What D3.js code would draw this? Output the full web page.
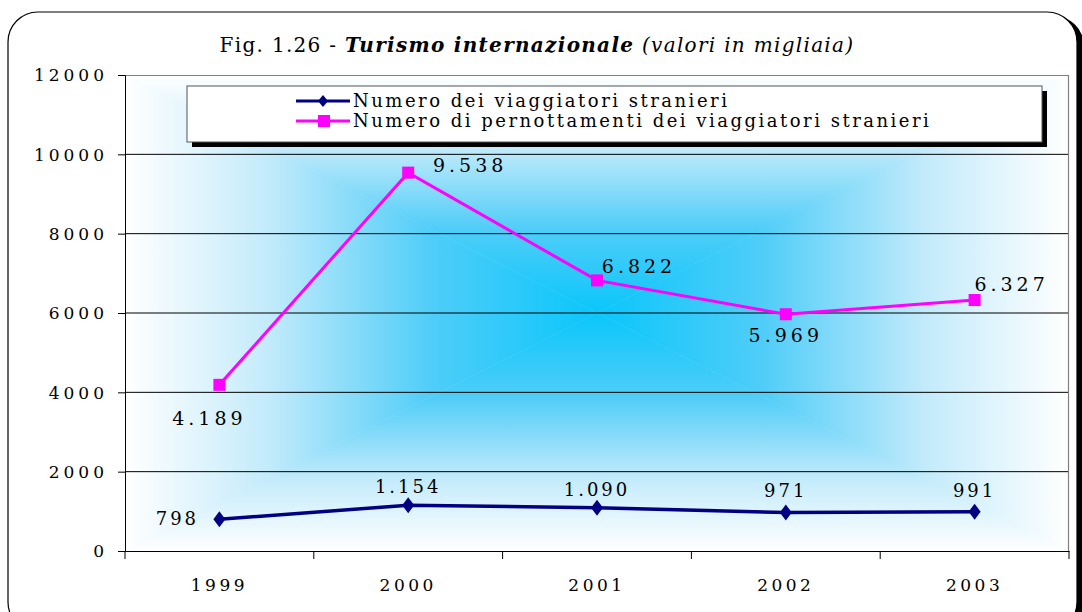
<!DOCTYPE html>
<html>
<head>
<meta charset="utf-8">
<script src="https://cdn.jsdelivr.net/npm/d3@7"></script>
<style>
  body { margin: 0; background: #fff; }
  text { font-family: "DejaVu Serif", "Liberation Serif", serif; fill: #000; }
</style>
</head>
<body>
<svg width="1082" height="612"></svg>
<script>
// chart values
var years = ['1999', '2000', '2001', '2002', '2003'];
var viaggiatori = [798, 1154, 1090, 971, 991];
var pernottamenti = [4189, 9538, 6822, 5969, 6327];
var viaggiatoriLabels = ['798', '1.154', '1.090', '971', '991'];
var pernottamentiLabels = ['4.189', '9.538', '6.822', '5.969', '6.327'];
var yTicks = [0, 2000, 4000, 6000, 8000, 10000, 12000];
var seriesNames = ['Numero dei viaggiatori stranieri', 'Numero di pernottamenti dei viaggiatori stranieri'];

var svg = d3.select('svg');
var padding = {t: 75, r: 13, b: 61, l: 125};
var W = 1082 - padding.l - padding.r;
var H = 612 - padding.t - padding.b;

var defs = svg.append('defs');

// outer rounded frame with shadow
svg.append('rect')
    .attr('x', 12).attr('y', 16).attr('width', 1072).attr('height', 620)
    .attr('rx', 30).attr('fill', '#000');
svg.append('rect')
    .attr('x', 8).attr('y', 12).attr('width', 1069).attr('height', 620)
    .attr('rx', 30).attr('fill', '#fff').attr('stroke', '#000').attr('stroke-width', 1.2);

// title
var title = svg.append('text')
    .attr('x', 537).attr('y', 52)
    .attr('text-anchor', 'middle')
    .style('font-size', '20px').style('letter-spacing', '1.3px');
title.append('tspan').text('Fig. 1.26 - ');
title.append('tspan').text('Turismo internazionale').style('font-weight', 'bold').style('font-style', 'italic');
title.append('tspan').text('  (valori in migliaia)').style('font-style', 'italic');

var xScale = d3.scaleBand().domain(years).range([0, W]);
var yScale = d3.scaleLinear().domain([0, 12000]).range([H, 0]);

// background: rectangular "from centre" gradient made of four triangles
var bgG = svg.append('g').attr('transform', 'translate(' + [padding.l, padding.t] + ')');
var cx = W / 2, cy = H / 2;
var tris = [
    {id: 'gT', pts: [[0, 0], [W, 0], [cx, cy]], x2: cx, y2: 0},
    {id: 'gB', pts: [[0, H], [W, H], [cx, cy]], x2: cx, y2: H},
    {id: 'gL', pts: [[0, 0], [0, H], [cx, cy]], x2: 0, y2: cy},
    {id: 'gR', pts: [[W, 0], [W, H], [cx, cy]], x2: W, y2: cy}
];
tris.forEach(function(t) {
    var g = defs.append('linearGradient')
        .attr('id', t.id)
        .attr('gradientUnits', 'userSpaceOnUse')
        .attr('x1', cx).attr('y1', cy)
        .attr('x2', t.x2).attr('y2', t.y2);
    g.append('stop').attr('offset', '0%').attr('stop-color', '#0ac6fb');
    g.append('stop').attr('offset', '35%').attr('stop-color', '#4fcdf8');
    g.append('stop').attr('offset', '70%').attr('stop-color', '#c4ebfb');
    g.append('stop').attr('offset', '100%').attr('stop-color', '#ffffff');
    bgG.append('polygon')
        .attr('points', t.pts.map(function(p) { return p.join(','); }).join(' '))
        .attr('fill', 'url(#' + t.id + ')')
        .attr('stroke', 'url(#' + t.id + ')')
        .attr('stroke-width', 0.5);
});

var chartG = svg.append('g')
    .attr('transform', 'translate(' + [padding.l, padding.t] + ')');

// gridlines
chartG.selectAll('.grid')
    .data(yTicks.filter(function(d) { return d > 0 && d < 12000; }))
    .enter().append('line')
    .attr('class', 'grid')
    .attr('x1', 0).attr('x2', W)
    .attr('y1', function(d) { return yScale(d); })
    .attr('y2', function(d) { return yScale(d); })
    .attr('stroke', '#000').attr('stroke-width', 1);

// plot area border (top and right)
chartG.append('path')
    .attr('d', 'M0,0.5H' + (W - 0.5) + 'V' + H)
    .attr('fill', 'none').attr('stroke', '#808080').attr('stroke-width', 1.2);

// y axis
var yAxis = d3.axisLeft(yScale).tickValues(yTicks).tickSize(7).tickPadding(10).tickFormat(d3.format('d'));
var yG = chartG.append('g').call(yAxis);
yG.select('.domain').attr('stroke', '#000');
yG.selectAll('text').style('font-size', '17px').style('letter-spacing', '4px').attr('dy', '0.35em');

// x axis
var xAxis = d3.axisBottom(xScale).tickValues([]).tickSizeOuter(0);
var xG = chartG.append('g').attr('transform', 'translate(0,' + H + ')').call(xAxis);
xG.select('.domain').attr('stroke', '#000');
xG.selectAll('.xt')
    .data(d3.range(years.length + 1))
    .enter().append('line')
    .attr('class', 'xt')
    .attr('x1', function(i) { return i * xScale.step(); })
    .attr('x2', function(i) { return i * xScale.step(); })
    .attr('y1', 0).attr('y2', 8)
    .attr('stroke', '#000');
xG.selectAll('.xl')
    .data(years)
    .enter().append('text')
    .attr('class', 'xl')
    .attr('x', function(d) { return xScale(d) + xScale.bandwidth() / 2; })
    .attr('y', 40)
    .attr('text-anchor', 'middle')
    .style('font-size', '17px').style('letter-spacing', '3.5px')
    .text(function(d) { return d; });

var px = function(d, i) { return xScale(years[i]) + xScale.bandwidth() / 2; };
var line = d3.line().x(function(d, i) { return px(d, i); }).y(function(d) { return yScale(d); });

// pink series
chartG.append('path').datum(pernottamenti)
    .attr('d', line).attr('fill', 'none')
    .attr('stroke', '#ff00ff').attr('stroke-width', 3);
chartG.selectAll('.sq').data(pernottamenti).enter().append('rect')
    .attr('class', 'sq')
    .attr('x', function(d, i) { return px(d, i) - 6; })
    .attr('y', function(d) { return yScale(d) - 6; })
    .attr('width', 12).attr('height', 12)
    .attr('fill', '#ff00ff');

// blue series
chartG.append('path').datum(viaggiatori)
    .attr('d', line).attr('fill', 'none')
    .attr('stroke', '#000080').attr('stroke-width', 3.5);
var diamond = 'M0,-8L6,0L0,8L-6,0Z';
chartG.selectAll('.dm').data(viaggiatori).enter().append('path')
    .attr('class', 'dm')
    .attr('d', diamond)
    .attr('transform', function(d, i) { return 'translate(' + [px(d, i), yScale(d)] + ')'; })
    .attr('fill', '#000080');

// data labels (offsets from the point)
var pinkOff = [[-10, 40], [62, -1], [42, -7], [0, 28], [37, -9]];
var blueOff = [[-42, 6], [0, -12], [0, -12], [0, -15], [0, -15]];
chartG.selectAll('.pl').data(pernottamenti).enter().append('text')
    .attr('x', function(d, i) { return px(d, i) + pinkOff[i][0]; })
    .attr('y', function(d, i) { return yScale(d) + pinkOff[i][1]; })
    .attr('text-anchor', 'middle')
    .style('font-size', '19px').style('letter-spacing', '4px')
    .text(function(d, i) { return pernottamentiLabels[i]; });
chartG.selectAll('.bl').data(viaggiatori).enter().append('text')
    .attr('x', function(d, i) { return px(d, i) + blueOff[i][0]; })
    .attr('y', function(d, i) { return yScale(d) + blueOff[i][1]; })
    .attr('text-anchor', 'middle')
    .style('font-size', '18px').style('letter-spacing', '3px')
    .text(function(d, i) { return viaggiatoriLabels[i]; });

// legend
var lg = svg.append('g').attr('transform', 'translate(187,86)');
lg.append('rect').attr('x', 5).attr('y', 5).attr('width', 855).attr('height', 56).attr('fill', '#000');
lg.append('rect').attr('x', 0).attr('y', 0).attr('width', 855).attr('height', 56)
    .attr('fill', '#fff').attr('stroke', '#555').attr('stroke-width', 1);
var colors = ['#000080', '#ff00ff'];
seriesNames.forEach(function(name, i) {
    var yy = 15 + i * 20;
    lg.append('line').attr('x1', 109).attr('x2', 163).attr('y1', yy).attr('y2', yy)
        .attr('stroke', colors[i]).attr('stroke-width', 3);
    if (i === 0) {
        lg.append('path').attr('d', 'M0,-6L5,0L0,6L-5,0Z')
            .attr('transform', 'translate(' + [136, yy] + ')').attr('fill', colors[i]);
    } else {
        lg.append('rect').attr('x', 131).attr('y', yy - 6).attr('width', 12).attr('height', 12).attr('fill', colors[i]);
    }
    lg.append('text').attr('x', 166).attr('y', yy + 6)
        .style('font-size', '18px').style('letter-spacing', '2.5px')
        .text(name);
});
</script>
</body>
</html>
